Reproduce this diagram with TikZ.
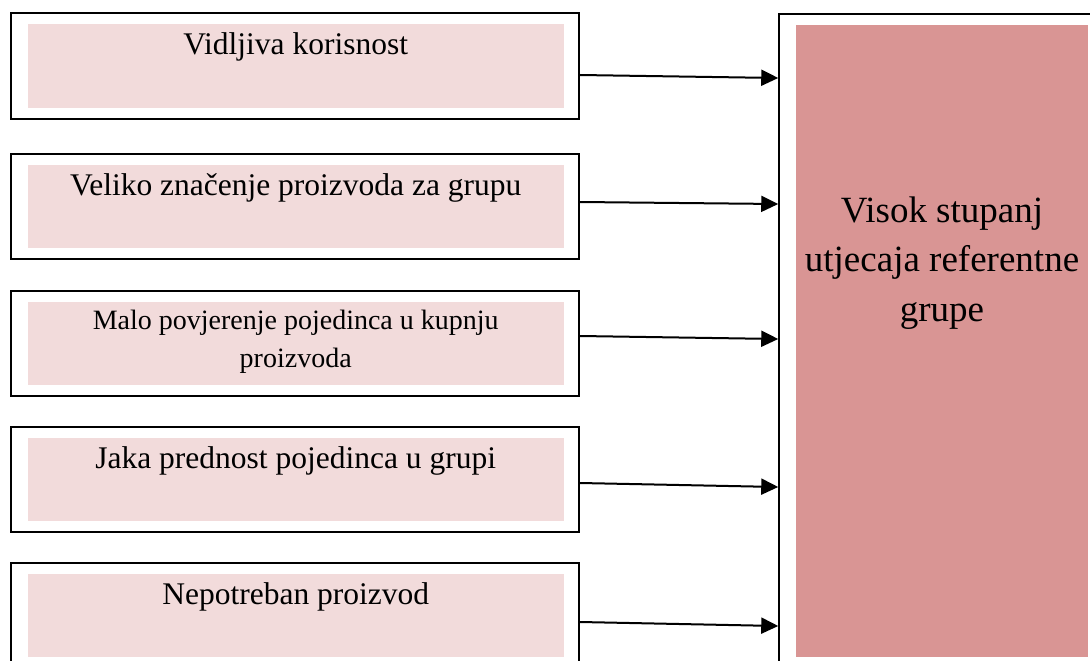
\documentclass[tikz,border=0pt]{standalone}
\usepackage{fontspec}
\setmainfont{Liberation Serif}
\usetikzlibrary{arrows.meta}

\definecolor{palepink}{HTML}{F2DBDB}
\definecolor{rosepink}{HTML}{D99594}

\begin{document}
\begin{tikzpicture}[
  x=1pt, y=-1pt,
  line width=2pt,
  outbox/.style={draw=black, line width=2pt, inner sep=0pt,
    minimum width=568.5pt, minimum height=105pt},
  pinkfill/.style={fill=palepink, inner sep=0pt,
    minimum width=536.5pt, minimum height=83pt},
  factor/.style={font=\fontsize{31.5}{38}\selectfont, inner sep=0pt},
  arr/.style={-{Triangle[length=17pt,width=16pt]}, line width=2pt}
]

% page frame
\clip (0,0) rectangle (1090,661);
\fill[white] (0,0) rectangle (1090,661);

% ------------------- Right: result box ------------------- %
\node[draw=black, line width=1.5pt, inner sep=0pt, minimum width=331pt,
  minimum height=666pt] (goal) at (944.5,347) {};
\node[fill=rosepink, inner sep=0pt, minimum width=292pt,
  minimum height=632pt] (goalfill) at (942,341) {};
\node[font=\fontsize{37}{49.5}\selectfont, align=center, inner sep=0pt]
  (goaltxt) at (942,263) {Visok stupanj\\utjecaja referentne\\grupe};

% ------------------- Left: factor boxes ------------------- %
\foreach \n/\top in {1/13.5,2/154,3/291,4/427,5/563} {
  \node[outbox] (b\n) at (294.75,\top+52.5) {};
  \node[pinkfill] (f\n) at (295.75,\top+11+41.5) {};
}

% texts
\node[factor, anchor=base] (t1) at (295.7,55) {Vidljiva korisnost};
\node[factor, anchor=base] (t2) at (295.7,195) {Veliko značenje proizvoda za grupu};
\node[font=\fontsize{28}{38}\selectfont, align=center, inner sep=0pt]
  (t3) at (295.7,341.5) {Malo povjerenje pojedinca u kupnju\\proizvoda};
\node[factor, anchor=base] (t4) at (295.7,468) {Jaka prednost pojedinca u grupi};
\node[factor, anchor=base] (t5) at (295.7,604) {Nepotreban proizvod};

% arrows into the result box
\foreach \n/\ys/\ye in {1/75/78,2/202/204,3/336/339,4/483/487,5/622/626} {
  \draw[arr] (b\n.east |- 0,\ys) -- (goal.west |- 0,\ye);
}

\end{tikzpicture}
\end{document}
